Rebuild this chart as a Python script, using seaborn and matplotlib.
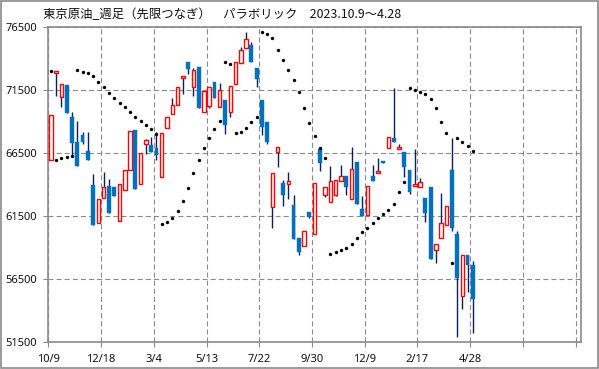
import matplotlib
matplotlib.use("Agg")
import matplotlib.pyplot as plt
from matplotlib.patches import Rectangle
import numpy as np
import pandas as pd
import seaborn as sns

# weekly candles, Tokyo crude oil (index = week number)
opens = [65930, 72900, 70940, 71920, 69380, 67390, 67950, 66680, 63980, 60930,
         62920, 63870, 63790, 61090, 63550, 65140, 68340, 64030, 67210, 67150,
         66940, 64640, 68480, 69590, 70300, 72450, 73750, 71790, 73350, 69750,
         70280, 72160, 70150, 70700, 69750, 71970, 73640, 74830, 75070, 73270,
         70700, 68950, 62200, 66620, 64130, 64030, 62390, 59770, 59180, 61830,
         60110, 66840, 63210, 62600, 63210, 64270, 64690, 62840, 65800, 62070,
         61570, 64690, 64900, 65880, 66890, 67680, 66860, 66600, 65170, 63920,
         63840, 62940, 63820, 58790, 59740, 60770, 65170, 60080, 55210, 58410,
         57650]
highs = [69510, 73030, 71970, 71920, 69750, 69030, 68160, 68160, 64850, 62860,
         65010, 64450, 63790, 64030, 65140, 68240, 68340, 66490, 67660, 67790,
         68210, 68080, 69350, 70860, 71730, 72610, 73750, 73240, 73350, 71440,
         71730, 72160, 72050, 70700, 71810, 73720, 74910, 76130, 75310, 73270,
         70700, 68950, 64900, 66970, 64370, 65010, 63230, 59770, 60370, 61830,
         64110, 66990, 63790, 65460, 64350, 65540, 64690, 66990, 65800, 63080,
         63870, 65560, 66120, 65880, 67790, 71650, 67210, 66600, 65170, 66810,
         64510, 62940, 63820, 59340, 63310, 62310, 67680, 60320, 58410, 58410,
         57940]
lows = [65930, 71050, 70150, 69720, 66230, 65510, 67260, 65990, 60820, 60930,
        62920, 61780, 63130, 61090, 63550, 65140, 63680, 64030, 66410, 66620,
        65990, 64640, 68480, 69590, 70300, 71230, 72820, 71070, 70120, 69750,
        70070, 70910, 70150, 68050, 69400, 71970, 73640, 74830, 73770, 71760,
        67950, 67260, 60610, 65430, 62330, 62890, 59710, 58440, 59180, 61380,
        60110, 65110, 63020, 62600, 63100, 64270, 63180, 62840, 62490, 61490,
        61570, 64320, 64900, 65750, 66890, 67360, 66860, 64580, 63260, 63920,
        63840, 61060, 58120, 57810, 59740, 60770, 60350, 51930, 54150, 55500,
        52270]
closes = [69510, 73030, 71970, 69720, 67340, 65510, 67420, 65990, 60820, 62860,
          63840, 61780, 63130, 64030, 65140, 68240, 63680, 66490, 67520, 66620,
          66360, 68080, 69350, 70300, 71730, 72610, 73220, 73080, 70120, 71440,
          71730, 70910, 71500, 68770, 71810, 73720, 74670, 75550, 73770, 72400,
          68560, 67420, 64900, 66970, 63210, 64270, 59710, 58650, 60370, 61460,
          64110, 65750, 63790, 64270, 64350, 64660, 63820, 65220, 62490, 61490,
          63870, 64320, 65090, 65750, 67790, 67360, 66970, 65430, 63450, 64030,
          64190, 61780, 58120, 59340, 60930, 62310, 60590, 56640, 58410, 57670,
          54950]
# parabolic SAR, one dot per week
sar = [73010, 65930, 66090, 66170, 66310, 73080, 72980, 72850, 72660, 72180,
       71730, 71310, 70860, 70460, 70150, 69750, 69380, 69030, 68720, 68400,
       68050, 60850, 61010, 61330, 61960, 62680, 63710, 64900, 65930, 66890,
       67680, 68400, 69030, 73720, 73560, 68080, 68160, 68480, 68950, 69350,
       76100, 75940, 75630, 74670, 73880, 73080, 72290, 71340, 70070, 68870,
       67840, 66890, 66090, 58470, 58630, 58790, 59020, 59340, 59740, 60220,
       60610, 60980, 61330, 61650, 61990, 62440, 63390, 64190, 71650, 71500,
       71390, 71180, 70780, 70070, 69010, 68130, 57830, 67680, 67360, 67050,
       66700]
tick_labels = ["10/9", "12/18", "3/4", "5/13", "7/22", "9/30", "12/9", "2/17", "4/28", "", ""]
title = "東京原油_週足（先限つなぎ）　パラボリック　2023.10.9～4.28"

df = pd.DataFrame({"open": opens, "high": highs, "low": lows, "close": closes, "sar": sar})
df["week"] = np.arange(len(df))
up = df["close"] >= df["open"]

RED, BLUE, WICK, GRID = "#ff0000", "#0070c0", "#0a1f5c", "#8a8a8a"

sns.set_theme(style="white")
plt.rcParams["font.family"] = ["Noto Sans", "DejaVu Sans"]

fig = plt.figure(figsize=(5.99, 3.69), dpi=100)
ax = fig.add_axes([48.3 / 599, 1 - 342.3 / 369, 533 / 599, 315 / 369])

# wicks
ax.vlines(df["week"], df["low"], df["high"], color=WICK, lw=1.0, zorder=2)

# bodies
body_lo = df[["open", "close"]].min(axis=1)
body_h = (df["close"] - df["open"]).abs().clip(lower=40)
ax.bar(df.loc[up, "week"], body_h[up], bottom=body_lo[up], width=0.66,
       color="white", edgecolor=RED, linewidth=1.0, zorder=3)
ax.bar(df.loc[~up, "week"], body_h[~up], bottom=body_lo[~up], width=0.72,
       color=BLUE, edgecolor=BLUE, linewidth=0.3, zorder=3)

# parabolic SAR dots
sns.scatterplot(data=df, x="week", y="sar", color="black", s=6, linewidth=0,
                marker="o", ax=ax, zorder=4, legend=False)

ax.set_xlim(-0.5, 100.56)
ax.set_ylim(51500, 76500)
ax.set_xticks(np.arange(-0.5, 100, 10))
ax.set_xticklabels(tick_labels)
ax.set_yticks(np.arange(51500, 76501, 5000))
ax.set_xlabel("")
ax.set_ylabel("")
ax.grid(True, color=GRID, linestyle=(0, (4.5, 2.8)), linewidth=0.8)
ax.tick_params(axis="both", which="both", length=3.6, width=0.8, color=GRID,
               labelsize=8, labelcolor="#111111", pad=4.5,
               bottom=True, left=True)
for s in ax.spines.values():
    s.set_color(GRID)
    s.set_linewidth(1.2)

fig.text(43 / 599, 1 - 14.5 / 369, title, ha="left", va="center", fontsize=8.9,
         color="#111111", family=["Noto Sans CJK JP", "DejaVu Sans"])

# outer frame around the whole picture
fig.patches.append(Rectangle((0.001, 0.002), 0.997, 0.996, transform=fig.transFigure,
                             fill=False, edgecolor=GRID, linewidth=1.2))

fig.savefig("out.png", dpi=100)
